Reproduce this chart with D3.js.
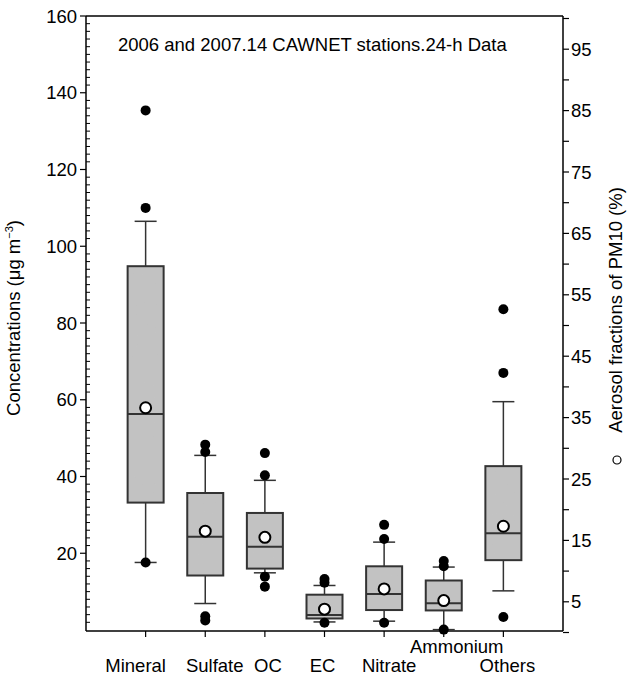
<!DOCTYPE html>
<html><head><meta charset="utf-8">
<script src="https://cdn.jsdelivr.net/npm/d3@7"></script>
<style>
body{margin:0;background:#fff;}
text{font-family:"Liberation Sans",Arial,sans-serif;fill:#000;}
</style></head>
<body><svg id="c" width="628" height="675"></svg>
<script>
// ---- data ----
const categories = ["Mineral","Sulfate","OC","EC","Nitrate","Ammonium","Others"];
const whiskerLow  = [17.6, 6.9, 14.9, 2.1, 2.3, 0.1, 10.2];
const q1          = [33.2, 14.2, 16.0, 3.0, 5.2, 5.1, 18.2];
const medians     = [56.3, 24.3, 21.7, 3.9, 9.4, 7.0, 25.2];
const q3          = [94.8, 35.7, 30.5, 9.2, 16.6, 12.9, 42.7];
const whiskerHigh = [106.5, 45.5, 39.0, 11.6, 22.9, 16.4, 59.5];
const outliers    = [[135.4,110.0,17.6],[48.3,46.4,3.6,2.5],[46.1,40.3,13.9,11.3],[13.3,12.3,1.9],[27.4,23.7,1.9],[18.0,16.6,0.1],[83.6,67.0,3.4]];
const fractions   = [36.6, 16.5, 15.5, 3.8, 7.1, 5.2, 17.3]; // % of PM10 (right axis)
const leftTicks   = [20,40,60,80,100,120,140,160];
const rightTicks  = [5,15,25,35,45,55,65,75,85,95];
const titleText   = "2006 and 2007.14 CAWNET stations.24-h Data";

// layout-only label nudges (px) for category labels
const labelDx = {Mineral:-10, Sulfate:9.5, OC:3, EC:-2, Nitrate:5, Ammonium:13, Others:4};
const labelY  = {Ammonium:653};

const svg = d3.select("#c");
const L = 86, R = 563, T = 16, B = 631;
const x = d3.scalePoint().domain(categories).range([L, R]).padding(1);
const y = d3.scaleLinear().domain([0,160]).range([630, T]);
const y2 = d3.scaleLinear().domain([0,100]).range([632.5, 18.5]);
const FS = 18.5;

// subtle texture for box fill
const defs = svg.append("defs");
const flt = defs.append("filter").attr("id","grain").attr("x",0).attr("y",0).attr("width","100%").attr("height","100%");
flt.append("feTurbulence").attr("type","fractalNoise").attr("baseFrequency",0.9).attr("numOctaves",1).attr("seed",3).attr("result","n");
flt.append("feColorMatrix").attr("in","n").attr("type","matrix")
  .attr("values","0 0 0 0 0.5  0 0 0 0 0.5  0 0 0 0 0.5  0 0 0 0.18 0").attr("result","g");
flt.append("feComposite").attr("in","g").attr("in2","SourceGraphic").attr("operator","in").attr("result","g2");
flt.append("feMerge").call(m=>{m.append("feMergeNode").attr("in","SourceGraphic");m.append("feMergeNode").attr("in","g2");});

// frame
svg.append("line").attr("x1",L).attr("x2",R).attr("y1",T).attr("y2",T).attr("stroke","#000").attr("stroke-width",1.5);
svg.append("line").attr("x1",R).attr("x2",R).attr("y1",T).attr("y2",B).attr("stroke","#000").attr("stroke-width",1.5);

// left axis
const gl = svg.append("g").attr("transform",`translate(${L},0)`);
gl.append("line").attr("y1",T).attr("y2",B).attr("stroke","#000").attr("stroke-width",1.5);
const minor = d3.range(2,160,2).filter(v=>v%20!==0);
gl.selectAll(".mn").data(minor).enter().append("line")
  .attr("x1",0).attr("x2",4).attr("y1",d=>y(d)).attr("y2",d=>y(d)).attr("stroke","#000").attr("stroke-width",1);
gl.selectAll(".mj").data(leftTicks).enter().append("line")
  .attr("x1",-6).attr("x2",0).attr("y1",d=>y(d)).attr("y2",d=>y(d)).attr("stroke","#000").attr("stroke-width",1.2);
gl.selectAll(".lb").data(leftTicks).enter().append("text")
  .attr("x",-9).attr("y",d=>y(d)).attr("dy","0.36em").attr("text-anchor","end").attr("font-size",FS).text(d=>d);

// right axis
const gr = svg.append("g").attr("transform",`translate(${R},0)`);
const rAll = d3.range(0,101,5);
gr.selectAll(".rt").data(rAll).enter().append("line")
  .attr("x1",0).attr("x2",6).attr("y1",d=>y2(d)).attr("y2",d=>y2(d)).attr("stroke","#000").attr("stroke-width",1.2);
gr.selectAll(".rl").data(rightTicks).enter().append("text")
  .attr("x",8).attr("y",d=>y2(d)).attr("dy","0.36em").attr("font-size",FS).text(d=>d);

// bottom axis
svg.append("line").attr("x1",L).attr("x2",R).attr("y1",B).attr("y2",B).attr("stroke","#000").attr("stroke-width",1.5);
svg.selectAll(".xt").data(categories).enter().append("line")
  .attr("x1",d=>x(d)).attr("x2",d=>x(d)).attr("y1",B).attr("y2",B+6).attr("stroke","#000").attr("stroke-width",1.2);
svg.selectAll(".xl").data(categories).enter().append("text")
  .attr("x",d=>x(d)+(labelDx[d]||0)).attr("y",d=>labelY[d]||672).attr("text-anchor","middle").attr("font-size",FS).text(d=>d);

// boxes
const bw = 36, cw = 22;
categories.forEach((c,i)=>{
  const cx = x(c);
  const g = svg.append("g");
  g.append("line").attr("x1",cx).attr("x2",cx).attr("y1",y(whiskerHigh[i])).attr("y2",y(q3[i])).attr("stroke","#333").attr("stroke-width",1.5);
  g.append("line").attr("x1",cx).attr("x2",cx).attr("y1",y(q1[i])).attr("y2",y(whiskerLow[i])).attr("stroke","#333").attr("stroke-width",1.5);
  g.append("line").attr("x1",cx-cw/2).attr("x2",cx+cw/2).attr("y1",y(whiskerHigh[i])).attr("y2",y(whiskerHigh[i])).attr("stroke","#333").attr("stroke-width",1.5);
  g.append("line").attr("x1",cx-cw/2).attr("x2",cx+cw/2).attr("y1",y(whiskerLow[i])).attr("y2",y(whiskerLow[i])).attr("stroke","#333").attr("stroke-width",1.5);
  g.append("rect").attr("x",cx-bw/2).attr("width",bw).attr("y",y(q3[i])).attr("height",y(q1[i])-y(q3[i]))
    .attr("fill","#c3c3c3").attr("filter","url(#grain)");
  g.append("rect").attr("x",cx-bw/2).attr("width",bw).attr("y",y(q3[i])).attr("height",y(q1[i])-y(q3[i]))
    .attr("fill","none").attr("stroke","#333").attr("stroke-width",2);
  g.append("line").attr("x1",cx-bw/2).attr("x2",cx+bw/2).attr("y1",y(medians[i])).attr("y2",y(medians[i])).attr("stroke","#333").attr("stroke-width",2);
  g.selectAll(".o").data(outliers[i]).enter().append("circle")
    .attr("cx",cx).attr("cy",d=>y(d)).attr("r",5).attr("fill","#000");
  g.append("circle").attr("cx",cx).attr("cy",y2(fractions[i])).attr("r",5.5).attr("fill","#fff").attr("stroke","#000").attr("stroke-width",2);
});

// title
svg.append("text").attr("x",118).attr("y",51).attr("font-size",FS).text(titleText);

// axis titles
const lt = svg.append("text").attr("transform","translate(20,318) rotate(-90)").attr("text-anchor","middle").attr("font-size",FS);
lt.append("tspan").text("Concentrations (\u03bcg m");
lt.append("tspan").attr("font-size",11).attr("dy",-7).text("\u22123");
lt.append("tspan").attr("dy",7).text(")");
svg.append("text").attr("transform","translate(622,310) rotate(-90)").attr("text-anchor","middle").attr("font-size",FS)
  .text("Aerosol fractions of PM10 (%)");
svg.append("circle").attr("cx",617).attr("cy",460).attr("r",4).attr("fill","#fff").attr("stroke","#000").attr("stroke-width",1.2);
</script></body></html>
